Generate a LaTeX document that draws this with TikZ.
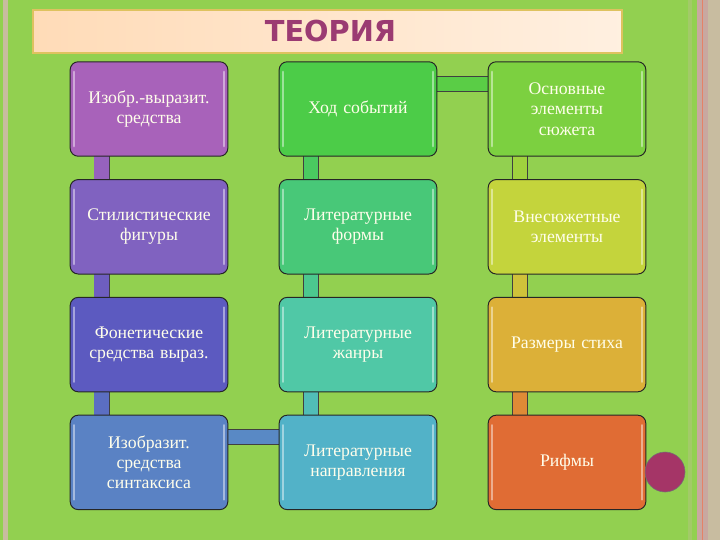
\documentclass[tikz,border=0pt]{standalone}
\usepackage{fontspec}
\setmainfont{Liberation Serif}
\newfontfamily\titlefont{DejaVu Sans}
\newfontfamily\boxfont{Liberation Serif}
\usepackage{xcolor}
\usepackage{tikz}
\usetikzlibrary{shapes,positioning,calc,backgrounds}

% slide colours
\definecolor{slidegreen}{HTML}{92D050}
\definecolor{slidebeige}{HTML}{C8BCA0}
\definecolor{slidepink}{HTML}{C8A8A0}
\definecolor{titleink}{HTML}{9B3B72}
% box colours
\definecolor{boxAa}{HTML}{A862BA}
\definecolor{boxAb}{HTML}{8062C0}
\definecolor{boxAc}{HTML}{5C5AC0}
\definecolor{boxAd}{HTML}{5A82C4}
\definecolor{boxBa}{HTML}{4CCC48}
\definecolor{boxBb}{HTML}{48C878}
\definecolor{boxBc}{HTML}{50C8A6}
\definecolor{boxBd}{HTML}{52B2C8}
\definecolor{boxCa}{HTML}{7CD040}
\definecolor{boxCb}{HTML}{C4D43C}
\definecolor{boxCc}{HTML}{DCB038}
\definecolor{boxCd}{HTML}{E06C34}

\begin{document}
\begin{tikzpicture}[
    x=0.025cm, y=-0.025cm,
    every node/.style={font=\boxfont\fontsize{12.6}{14.4}\selectfont},
    box/.style={draw=black!85, line width=0.7pt, rounded corners=0.2cm,
        minimum width=3.94cm, minimum height=2.36cm, text width=3.8cm,
        align=center, inner sep=0pt, text=white!92!yellow,
        path picture={
            \draw[white, opacity=.45, line width=1.6pt, line cap=round]
                ([shift={(0.1cm,-0.25cm)}]path picture bounding box.north west)
                -- ([shift={(0.1cm,0.25cm)}]path picture bounding box.south west);
            \draw[white, opacity=.45, line width=1.6pt, line cap=round]
                ([shift={(-0.1cm,-0.25cm)}]path picture bounding box.north east)
                -- ([shift={(-0.1cm,0.25cm)}]path picture bounding box.south east);
        }},
    bar/.style={draw=black!75, line width=0.6pt, double=#1, double distance=0.36cm},
    titlebar/.style={draw=yellow!60!orange!80!black!70, line width=0.9pt,
        left color=orange!28!white, right color=orange!12!white,
        minimum width=14.72cm, minimum height=1.07cm, text=titleink,
        font=\titlefont\bfseries\fontsize{20.5}{24}\selectfont}
]
\useasboundingbox (0,0) rectangle (720,540);

% Title
\node[titlebar] (title) at (327.5,31.5) {\hspace{0.15cm}ТЕОРИЯ};

% Boxes: column / row / colour / text
\foreach \c/\r/\col/\txt in {
    1/1/boxAa/{Изобр.-выразит.\\средства},
    1/2/boxAb/{Стилистические\\фигуры},
    1/3/boxAc/{Фонетические\\средства выраз.},
    1/4/boxAd/{Изобразит.\\средства\\синтаксиса},
    2/1/boxBa/{Ход событий},
    2/2/boxBb/{Литературные\\формы},
    2/3/boxBc/{Литературные\\жанры},
    2/4/boxBd/{Литературные\\направления},
    3/1/boxCa/{Основные\\элементы\\сюжета},
    3/2/boxCb/{Внесюжетные\\элементы},
    3/3/boxCc/{Размеры стиха},
    3/4/boxCd/{Рифмы}} {
    \node[box, fill=\col] (b\c\r) at ({149+(\c-1)*209}, {109+(\r-1)*117.8}) {\txt};
}

% Round marker
\node[circle, fill=titleink!90!red, draw=black!55, line width=0.4pt,
      minimum size=1cm, inner sep=0pt] (dot) at (665,472) {};

\begin{scope}[on background layer]
    % slide
    \fill[slidebeige] (0,0) rectangle (720,540);
    \fill[slidegreen] (0,0) rectangle (3,540);
    \fill[slidegreen] (8,0) rectangle (688,540);
    \fill[slidegreen!70!slidebeige] (688,0) rectangle (692,540);
    \fill[slidegreen] (692,0) rectangle (697,540);
    \fill[slidepink] (697,0) rectangle (708,540);
    \draw[red!40!brown!70, line width=0.6pt] (702,0) -- (702,540);

    % Connectors down the columns
    \foreach \a/\b/\col in {b11/b12/boxAa!55!boxAb, b12/b13/boxAb!50!boxAc,
        b13/b14/boxAc!50!boxAd, b24/b23/boxBd!50!boxBc, b23/b22/boxBc!50!boxBb,
        b22/b21/boxBb!50!boxBa, b31/b32/boxCa!50!boxCb, b32/b33/boxCb!50!boxCc,
        b33/b34/boxCc!45!boxCd} {
        \draw[bar=\col] ([xshift=0.8cm]\a.west) -- ([xshift=0.8cm]\b.west);
    }

    % Connectors across
    \draw[bar=boxAd!85!boxBd] ([yshift=-0.56cm]b14.north) -- ([yshift=-0.56cm]b24.north);
    \draw[bar=boxBa!70!boxCa] ([yshift=-0.56cm]b21.north) -- ([yshift=-0.56cm]b31.north);
\end{scope}

\end{tikzpicture}
\end{document}
